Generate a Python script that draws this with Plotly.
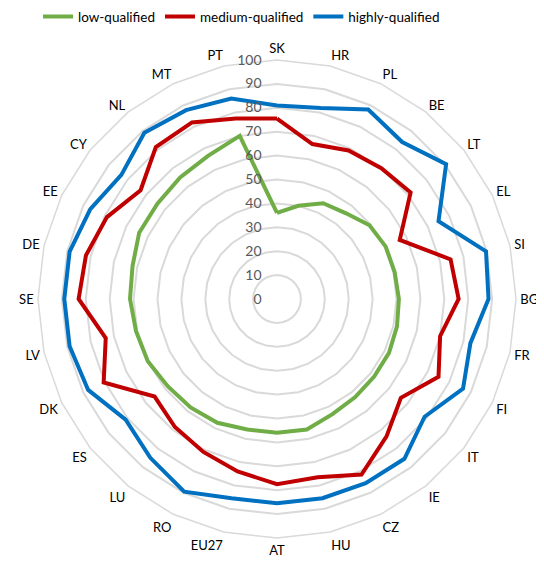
import plotly.graph_objects as go

categories = ["SK", "HR", "PL", "BE", "LT", "EL", "SI", "BG", "FR", "FI", "IT", "IE",
              "CZ", "HU", "AT", "EU27", "RO", "LU", "ES", "DK", "LV", "SE", "DE", "EE",
              "CY", "NL", "MT", "PT"]

low_qualified = [36, 40, 44.5, 46, 49.5, 50.5, 50.5, 51, 51.5, 52, 52, 52.5,
                 53.5, 56, 56, 56, 57.5, 58, 58.5, 60, 60.5, 61.5, 62, 64,
                 64, 65, 66.5, 70]
medium_qualified = [75.5, 66.5, 69, 70, 71.5, 57, 74.5, 76, 70, 75, 66.3, 73.5,
                    81.5, 76.5, 77.5, 74, 71, 68.5, 65.5, 80.5, 73.5, 83, 82, 79,
                    73, 81.3, 82, 77.5]
highly_qualified = [81, 82, 88, 84, 90.5, 75, 89.7, 88.5, 83, 86.4, 79, 85.5,
                    85.5, 85.5, 85.5, 85.5, 89.5, 85, 81, 87.7, 89, 89, 89, 86.7,
                    83.3, 89, 87.7, 86]

radial_ticks = [0, 10, 20, 30, 40, 50, 60, 70, 80, 90, 100]

series = [
    ("low-qualified", low_qualified, "#70AD47"),
    ("medium-qualified", medium_qualified, "#C00000"),
    ("highly-qualified", highly_qualified, "#0070C0"),
]

fig = go.Figure()
for name, vals, color in series:
    fig.add_trace(go.Scatterpolar(
        r=vals + vals[:1],
        theta=categories + categories[:1],
        mode="lines",
        name=name,
        line=dict(color=color, width=4),
    ))

W, H = 544, 567
cx, cy, R = 269, 291, 239
fig.update_layout(
    width=W, height=H,
    margin=dict(l=0, r=0, t=0, b=0, autoexpand=False),
    paper_bgcolor="white",
    font=dict(family="Lato, Open Sans, sans-serif", size=14, color="#000000"),
    showlegend=True,
    legend=dict(orientation="h", x=30 / W, xanchor="left", y=1.012, yanchor="top",
                font=dict(size=13.5, color="#000000"),
                bgcolor="rgba(0,0,0,0)"),
    polar=dict(
        domain=dict(x=[(cx - R) / W, (cx + R) / W],
                    y=[(H - cy - R) / H, (H - cy + R) / H]),
        bgcolor="white",
        gridshape="linear",
        radialaxis=dict(
            range=[0, 100],
            tickvals=radial_ticks,
            showline=False,
            ticks="outside",
            ticklen=10,
            tickcolor="rgba(0,0,0,0)",
            angle=90,
            tickangle=90,
            side="counterclockwise",
            gridcolor="#D9D9D9",
            gridwidth=1.5,
            tickfont=dict(size=14, color="#595959"),
        ),
        angularaxis=dict(
            direction="clockwise",
            rotation=90,
            showgrid=False,
            showline=True,
            linecolor="#D9D9D9",
            linewidth=1.5,
            ticks="outside",
            ticklen=1,
            tickcolor="rgba(0,0,0,0)",
            tickfont=dict(size=13, color="#000000"),
        ),
    ),
)

fig.write_html("out.html")
